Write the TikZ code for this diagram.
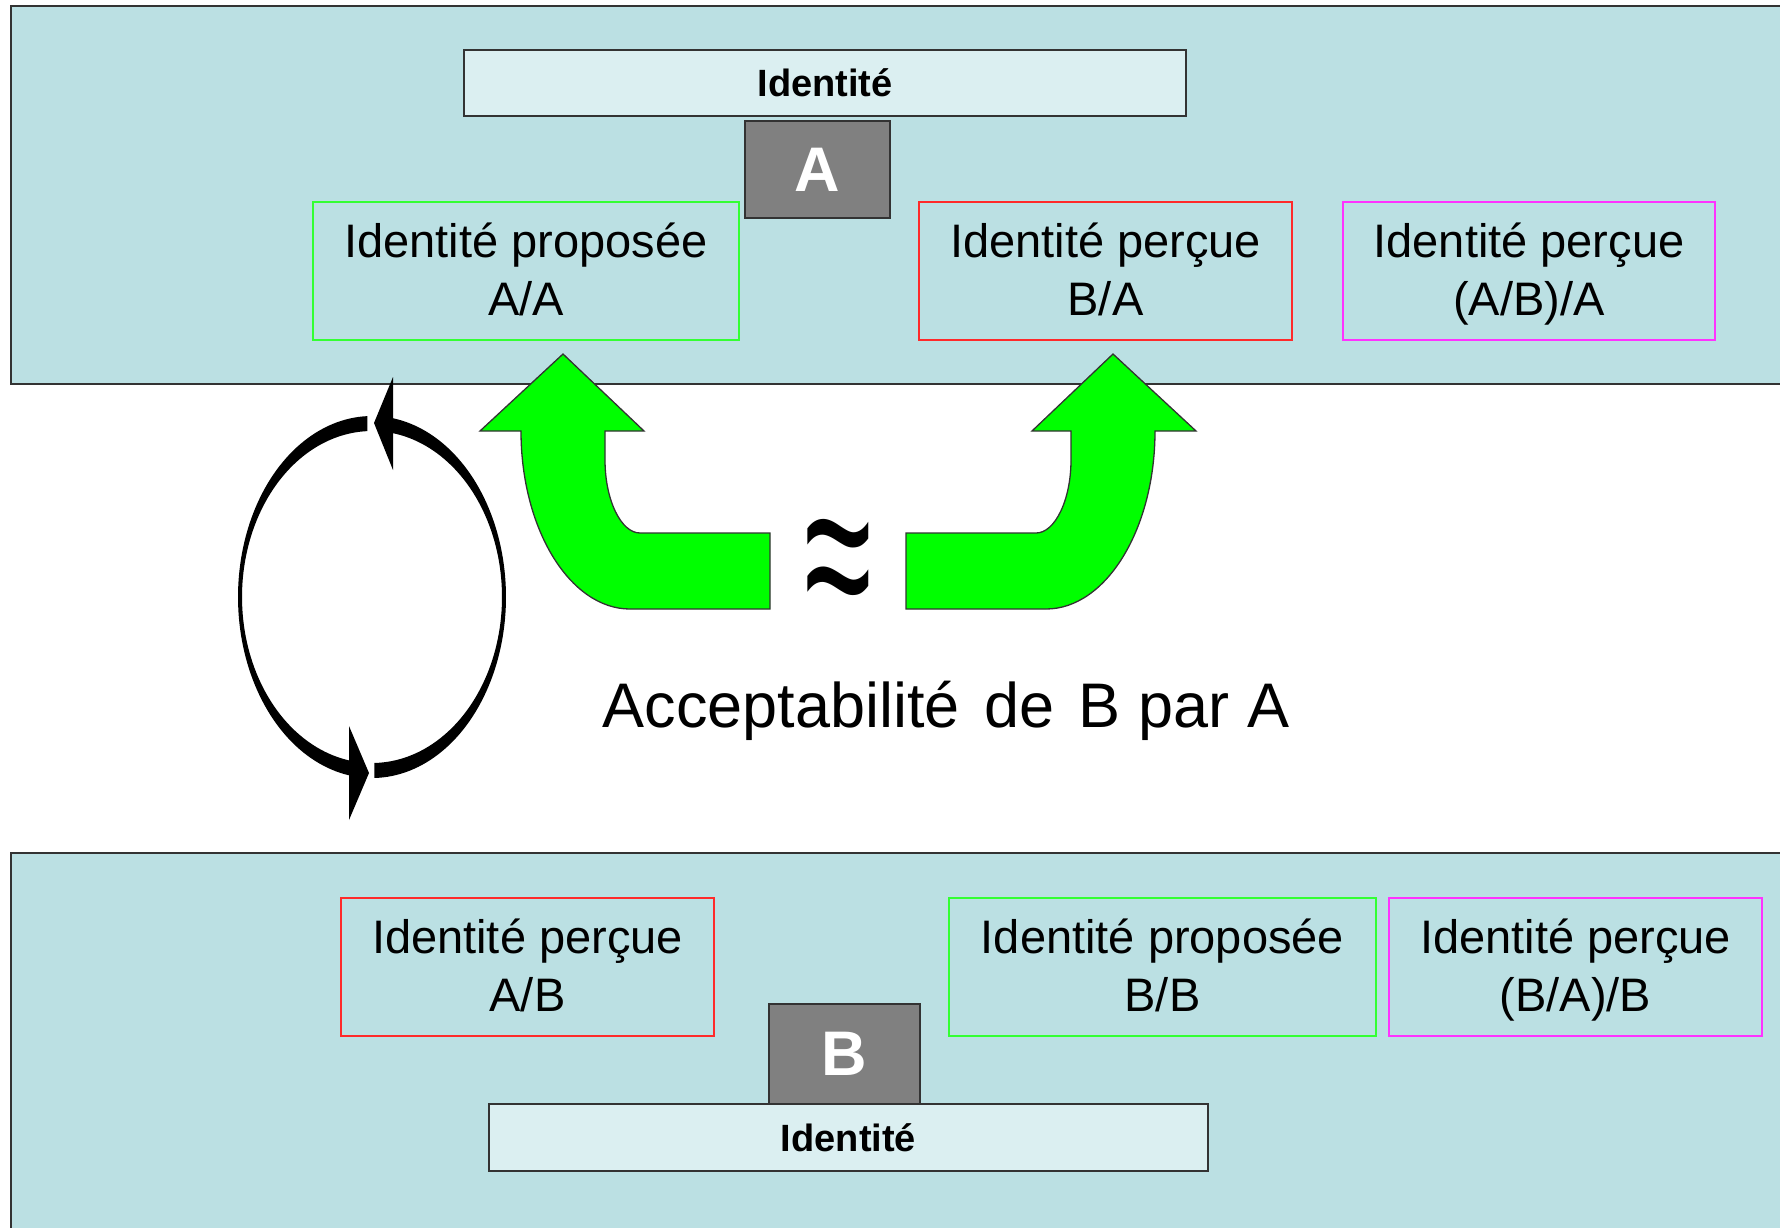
\documentclass[tikz,border=0pt]{standalone}
\usepackage{fontspec}
\setmainfont{Liberation Sans}
\usepackage{graphicx}
\definecolor{panelfill}{HTML}{BBE0E3}
\definecolor{barfill}{HTML}{DBEFF1}
\definecolor{edgegray}{HTML}{333333}
\definecolor{lettergray}{HTML}{808080}
\definecolor{idgreen}{HTML}{33FF33}
\definecolor{idred}{HTML}{FF2A2A}
\definecolor{idmagenta}{HTML}{FF33FF}
\definecolor{arrowgreen}{HTML}{00FF00}
\newcommand{\twolines}[2]{\begin{tabular}[b]{@{}c@{}}#1\\#2\end{tabular}}
\tikzset{
  panel/.style={draw=edgegray, line width=2.2pt, fill=panelfill, inner sep=0pt},
  idbar/.style={draw=edgegray, line width=2pt, fill=barfill, inner sep=0pt,
    font=\fontsize{38}{38}\selectfont\bfseries},
  letterbox/.style={draw=edgegray, line width=2pt, fill=lettergray, text=white, inner sep=0pt,
    font=\fontsize{63}{63}\selectfont\bfseries},
  idbox/.style={line width=2pt, inner sep=0pt, minimum height=138pt,
    text height=88pt, text depth=0pt,
    font=\fontsize{47}{58}\selectfont},
  bigarrow/.style={fill=arrowgreen, draw=edgegray, line width=1.3pt, line join=miter},
  cyclearrow/.style={fill=black},
  caption/.style={font=\fontsize{63}{63}\selectfont, inner sep=0pt}
}
\begin{document}
\begin{tikzpicture}[x=1pt,y=-1pt]
\useasboundingbox (0,0) rectangle (1780,1227);
\clip (0,0) rectangle (1780,1227);
\fill[white] (0,0) rectangle (1780,1227);

% panels
\node[panel, minimum width=1789pt, minimum height=378pt] (panelA) at (905.5,195) {};
\node[panel, minimum width=1789pt, minimum height=392pt] (panelB) at (905.5,1049) {};

% top group (A)
\node[idbar, minimum width=722pt, minimum height=66pt] (barA) at (825,83) {Identité};
\node[letterbox, minimum width=145pt, minimum height=97pt] (boxA) at (817.5,169.5) {A};
\node[idbox, draw=idgreen, minimum width=426pt] (AA) at (526,271) {\twolines{Identité proposée}{A/A}};
\node[idbox, draw=idred, minimum width=373pt] (BA) at (1105.5,271) {\twolines{Identité perçue}{B/A}};
\node[idbox, draw=idmagenta, minimum width=372pt] (ABA) at (1529,271) {\twolines{Identité perçue}{(A/B)/A}};

% bottom group (B)
\node[idbox, draw=idred, minimum width=373pt] (AB) at (527.5,967) {\twolines{Identité perçue}{A/B}};
\node[idbox, draw=idgreen, minimum width=427pt] (BB) at (1162.5,967) {\twolines{Identité proposée}{B/B}};
\node[idbox, draw=idmagenta, minimum width=373pt] (BAB) at (1575.5,967) {\twolines{Identité perçue}{(B/A)/B}};
\node[idbar, minimum width=719pt, minimum height=67pt] (barB) at (848.5,1137.5) {Identité};
\node[letterbox, minimum width=151pt, minimum height=100pt] (boxB) at (844.5,1054) {B};

% green bent arrows
\path[bigarrow] (563,354) -- (644,431) -- (605,431) -- (605,460)
  .. controls (605,500) and (621,533) .. (640,533)
  -- (770,533) -- (770,609) -- (630,609)
  .. controls (570,609) and (521,529) .. (521,431)
  -- (480,431) -- cycle;
\path[bigarrow] (1113,354) -- (1196,431) -- (1155,431)
  .. controls (1155,529) and (1106,609) .. (1046,609)
  -- (906,609) -- (906,533) -- (1036,533)
  .. controls (1055,533) and (1071,500) .. (1071,460)
  -- (1071,431) -- (1032,431) -- cycle;

% approx sign
\node[inner sep=0pt] (approx) at (838,576)
  {\scalebox{1.12}[2.1]{\fontsize{110}{110}\selectfont ≈}};

% caption
\node[caption, anchor=base] (accept) at (946,727)
  {Acceptabilité\hspace{7pt} de\hspace{7pt} B par A};

% cycle arrows
\fill[cyclearrow] plot[domain=268:100, samples=90] ({372+134*cos(\x)},{597+181*sin(\x)})
  -- plot[domain=100:268, samples=90] ({372+130*cos(\x)},{597+166*sin(\x)}) -- cycle;
\fill[cyclearrow] (369,773) -- (349,726) -- (349,820) -- cycle;
\fill[cyclearrow] plot[domain=89:-81, samples=90] ({372+134*cos(\x)},{597+181*sin(\x)})
  -- plot[domain=-81:89, samples=90] ({372+130*cos(\x)},{597+166*sin(\x)}) -- cycle;
\fill[cyclearrow] (374,423) -- (393,377) -- (393,470) -- cycle;
\end{tikzpicture}
\end{document}
